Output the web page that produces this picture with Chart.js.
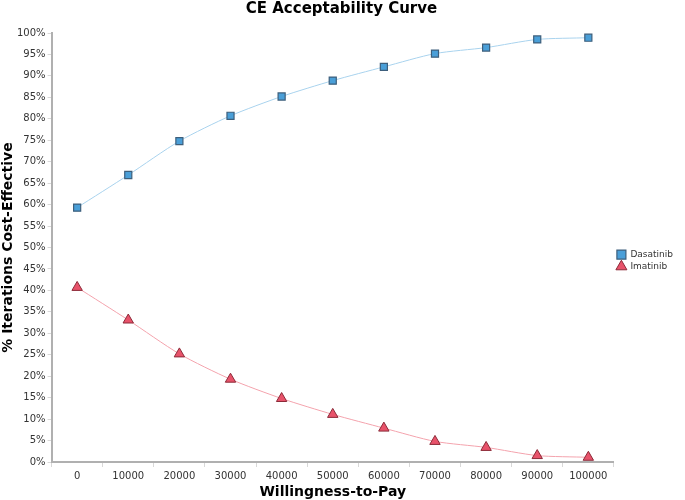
<!DOCTYPE html>
<html lang="en">
<head>
    <meta charset="UTF-8">
    <title>CE Acceptability Curve</title>
    <script src="https://cdn.jsdelivr.net/npm/chart.js"></script>
    <style>
        body {
            margin: 0;
            padding: 0;
            background-color: white;
        }
        .chart-container {
            width: 685px;
            height: 500px;
        }
    </style>
</head>
<body>
    <div class="chart-container">
        <canvas id="ceacChart"></canvas>
    </div>

    <script>
        // Willingness-to-pay thresholds
        const wtpLabels = ['0', '10000', '20000', '30000', '40000', '50000', '60000', '70000', '80000', '90000', '100000'];
        // % of iterations cost-effective
        const dasatinib = [59.3, 66.9, 74.8, 80.7, 85.2, 88.9, 92.1, 95.2, 96.6, 98.5, 98.9];
        const imatinib = [40.7, 33.1, 25.2, 19.3, 14.8, 11.1, 7.9, 4.8, 3.4, 1.5, 1.1];
        const yTicks = [0, 5, 10, 15, 20, 25, 30, 35, 40, 45, 50, 55, 60, 65, 70, 75, 80, 85, 90, 95, 100];

        const fontFamily = "'DejaVu Sans', Verdana, sans-serif";
        const axisGrey = '#b0b0b0';

        const ctx = document.getElementById('ceacChart').getContext('2d');

        new Chart(ctx, {
            type: 'line',
            data: {
                labels: wtpLabels,
                datasets: [
                    {
                        label: 'Dasatinib',
                        data: dasatinib,
                        borderColor: '#a9d3ee',
                        borderWidth: 1,
                        backgroundColor: '#4a9fd8',
                        pointStyle: 'rect',
                        pointRadius: 5,
                        pointBorderColor: '#3d5f7c',
                        pointBorderWidth: 1.2,
                        tension: 0.25
                    },
                    {
                        label: 'Imatinib',
                        data: imatinib,
                        borderColor: '#f4a3ad',
                        borderWidth: 1,
                        backgroundColor: '#e8526a',
                        pointStyle: 'triangle',
                        pointRadius: 6,
                        pointBorderColor: '#8c2a38',
                        pointBorderWidth: 1,
                        tension: 0.25
                    }
                ]
            },
            options: {
                responsive: true,
                maintainAspectRatio: false,
                animation: false,
                layout: {
                    padding: { top: 0, right: 2, bottom: 0, left: 0 }
                },
                scales: {
                    x: {
                        offset: true,
                        title: {
                            display: true,
                            text: 'Willingness-to-Pay',
                            font: { family: fontFamily, size: 14, weight: 'bold', lineHeight: 1 },
                            color: '#000',
                            padding: { top: 0, bottom: 1 }
                        },
                        ticks: {
                            font: { family: fontFamily, size: 10, lineHeight: 1 },
                            color: '#333',
                            padding: 4,
                            maxRotation: 0,
                            autoSkip: false
                        },
                        grid: {
                            drawOnChartArea: false,
                            drawTicks: true,
                            tickLength: 5,
                            color: '#d8d8d8',
                            offset: true
                        },
                        border: { color: axisGrey, width: 2 }
                    },
                    y: {
                        min: 0,
                        max: 100,
                        afterBuildTicks: function(scale) {
                            scale.ticks = yTicks.map(v => ({ value: v }));
                        },
                        title: {
                            display: true,
                            text: '% Iterations Cost-Effective',
                            font: { family: fontFamily, size: 14, weight: 'bold', lineHeight: 1 },
                            color: '#000',
                            padding: { top: 1, bottom: 0 }
                        },
                        ticks: {
                            font: { family: fontFamily, size: 10 },
                            color: '#333',
                            padding: 2,
                            callback: function(value) {
                                return value + '%';
                            }
                        },
                        grid: {
                            drawOnChartArea: false,
                            drawTicks: true,
                            tickLength: 4,
                            color: '#d8d8d8'
                        },
                        border: { color: axisGrey, width: 2 }
                    }
                },
                plugins: {
                    title: {
                        display: true,
                        text: 'CE Acceptability Curve',
                        font: { family: fontFamily, size: 15, weight: 'bold' },
                        color: '#000',
                        padding: { top: 0, bottom: 15 }
                    },
                    legend: {
                        position: 'right',
                        title: {
                            display: true,
                            text: '',
                            font: { size: 1 },
                            padding: 10
                        },
                        labels: {
                            font: { family: fontFamily, size: 9 },
                            color: '#333',
                            usePointStyle: true,
                            boxWidth: 9,
                            boxHeight: 9,
                            padding: 3
                        }
                    },
                    tooltip: { enabled: false }
                }
            }
        });
    </script>
</body>
</html>
